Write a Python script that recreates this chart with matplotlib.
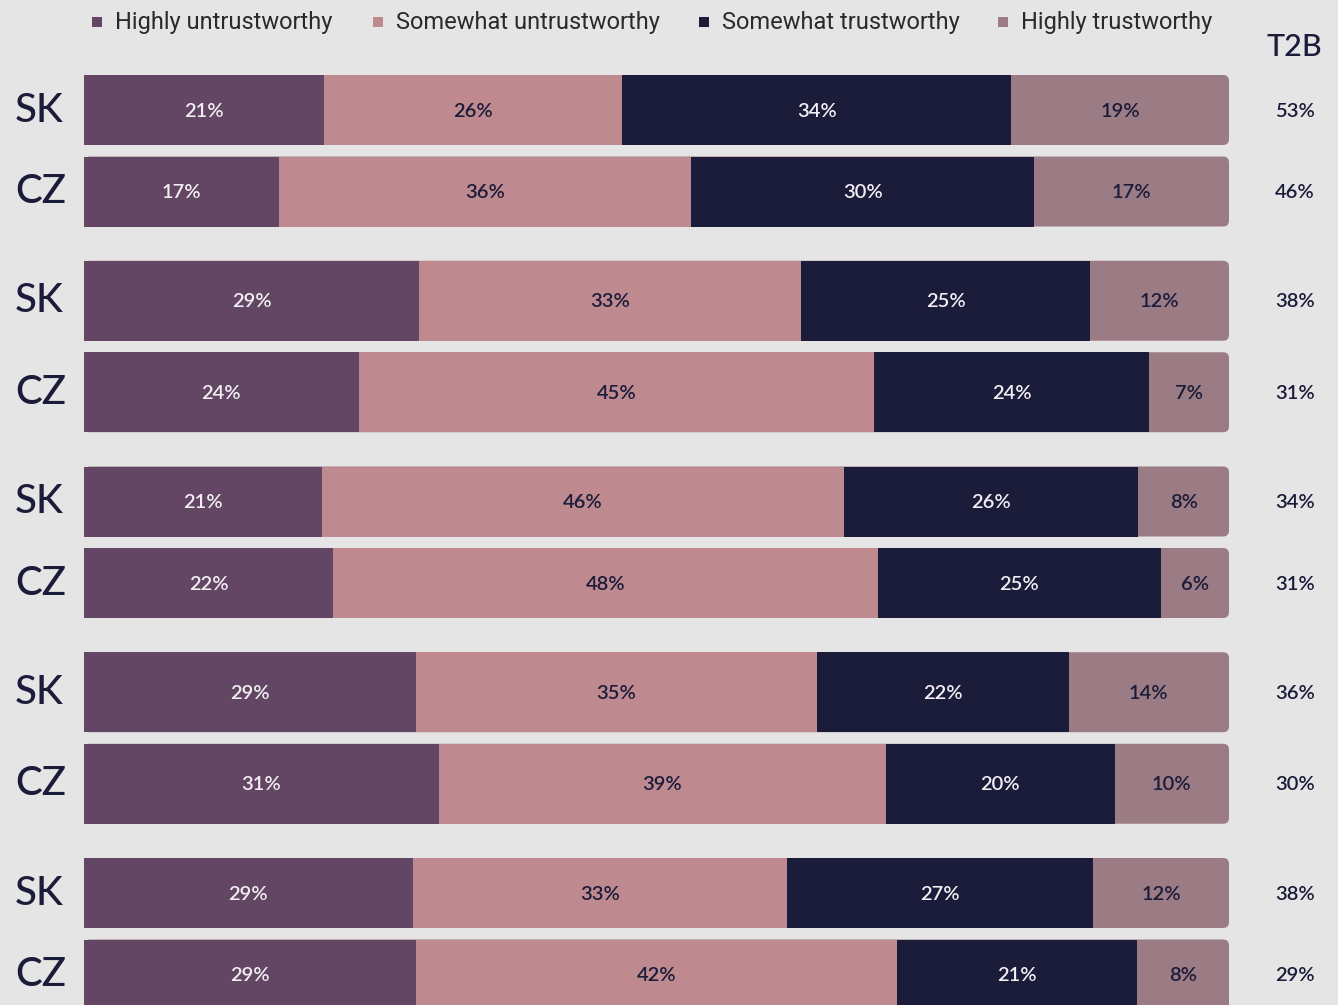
import matplotlib
matplotlib.use("Agg")
import matplotlib.pyplot as plt
from matplotlib.patches import FancyBboxPatch, Rectangle

# ---- data ----
categories = ["Highly untrustworthy", "Somewhat untrustworthy", "Somewhat trustworthy", "Highly trustworthy"]
rows = ["SK", "CZ", "SK", "CZ", "SK", "CZ", "SK", "CZ", "SK", "CZ"]
highly_untrust = [21, 17, 29, 24, 21, 22, 29, 31, 29, 29]
somewhat_untrust = [26, 36, 33, 45, 46, 48, 35, 39, 33, 42]
somewhat_trust = [34, 30, 25, 24, 26, 25, 22, 20, 27, 21]
highly_trust = [19, 17, 12, 7, 8, 6, 14, 10, 12, 8]
t2b = ["53%", "46%", "38%", "31%", "34%", "31%", "36%", "30%", "38%", "29%"]

# ---- style ----
colors = ["#634663", "#be8a8f", "#1b1b3a", "#9c7c84"]
text_cols = ["#f2eef2", "#1b1b3a", "#f2eef2", "#1b1b3a"]
bg = "#e5e5e5"
navy = "#1b1b3a"
NUM_FONT = ["Lato", "DejaVu Sans"]
LEG_FONT = ["Roboto", "DejaVu Sans"]

W, H = 1338, 1005
fig = plt.figure(figsize=(W / 100, H / 100), dpi=100, facecolor=bg)
ax = fig.add_axes([0, 0, 1, 1])
ax.set_facecolor(bg)
ax.axis("off")

x0_px, span_px = 84, 1145
s = span_px / 100.0  # px per percent unit
ax.set_xlim(-x0_px / s, (W - x0_px) / s)
ax.set_ylim(H, 0)

series = [highly_untrust, somewhat_untrust, somewhat_trust, highly_trust]
r_px = 6

for i, lab in enumerate(rows):
    g, r = divmod(i, 2)
    tall = (g % 2 == 1)
    h = 80 if tall else 70
    top_sk = 75 + 195.75 * g - (10 if tall else 0)
    top = top_sk + r * (h + 11.5)
    vals = [srs[i] for srs in series]
    total = float(sum(vals))
    widths = [v / total * 100 for v in vals]
    patch = FancyBboxPatch((0, top), 100, h,
                           boxstyle=f"round,pad=0,rounding_size={r_px / s}",
                           mutation_aspect=s, facecolor=colors[3],
                           edgecolor="none", zorder=2)
    ax.add_patch(patch)
    left = 0
    for k, (v, w) in enumerate(zip(vals, widths)):
        if k < 3:
            ax.add_patch(Rectangle((left, top), w, h, facecolor=colors[k],
                                   edgecolor="none", zorder=3))
        ax.text(left + w / 2, top + h / 2 + 1, f"{v}%", ha="center", va="center",
                fontsize=14.5, fontweight="semibold", color=text_cols[k],
                family=NUM_FONT, zorder=4)
        left += w
    ax.text(-x0_px / s + 15 / s, top + h / 2, lab, ha="left", va="center",
            fontsize=29, fontweight="medium", color=navy, family=NUM_FONT)
    ax.text(-x0_px / s + 1295 / s, top + h / 2 + 1, t2b[i], ha="center",
            va="center", fontsize=14.5, fontweight="semibold", color=navy,
            family=NUM_FONT)

# T2B header
fig.text(1294 / W, 1 - 47 / H, "T2B", ha="center", va="center", fontsize=22,
         fontweight="medium", color=navy, family=NUM_FONT)

# legend
leg_x = [92, 373, 699, 998]
for k, cat in enumerate(categories):
    fig.patches.append(Rectangle((leg_x[k] / W, 1 - 27 / H), 10 / W, 10 / H,
                                 transform=fig.transFigure, facecolor=colors[k],
                                 edgecolor="none"))
    fig.text((leg_x[k] + 23) / W, 1 - 22 / H, cat, ha="left", va="center",
             fontsize=17, color="#2a2a2a", family=LEG_FONT)

fig.savefig("out.png", dpi=100, facecolor=bg)
